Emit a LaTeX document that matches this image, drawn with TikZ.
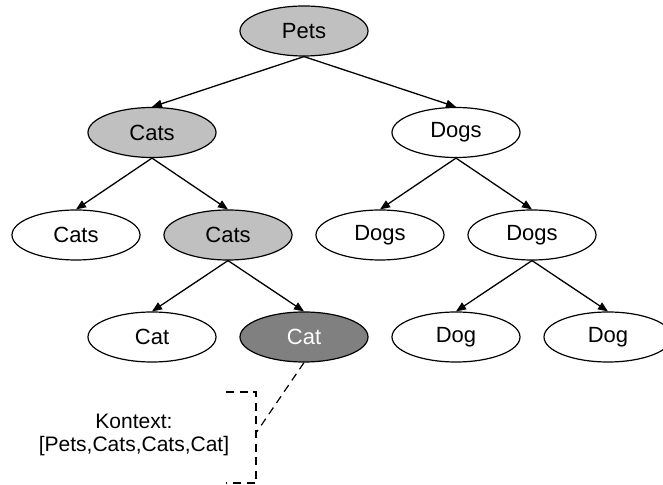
\documentclass[tikz,border=0pt]{standalone}
\usepackage{fontspec}
\setmainfont{Liberation Sans}
\usetikzlibrary{arrows.meta,shapes.geometric}
\definecolor{lightfill}{HTML}{C0C0C0}
\definecolor{darkfill}{HTML}{808080}
\begin{document}
\begin{tikzpicture}[x=0.5pt,y=-0.5pt,
  every node/.style={font=\fontsize{10.5}{11.5}\selectfont},
  tnode/.style={ellipse,draw=black,line width=0.6pt,minimum width=64pt,minimum height=25pt,inner sep=0pt,fill=white,font=\fontsize{11}{13}\selectfont},
  hl/.style={tnode,fill=lightfill},
  cur/.style={tnode,fill=darkfill,text=white},
  arr/.style={-{Triangle[length=5pt,width=4pt]},line width=0.65pt},
  dsh/.style={dash pattern=on 4pt off 2.8pt,line width=0.6pt}]
\useasboundingbox (0,0) rectangle (663,485);
\node[hl]   (pets)  at (304,31)    {Pets};
\node[hl]   (cats)  at (152,132.5) {Cats};
\node[tnode](dogs)  at (456,132.5) {Dogs};
\node[tnode](catsa) at (76,235)    {Cats};
\node[hl]   (catsb) at (228,235)   {Cats};
\node[tnode](dogsa) at (380,235)   {Dogs};
\node[tnode](dogsb) at (532,235)   {Dogs};
\node[tnode](cata)  at (152,337)   {Cat};
\node[cur]  (catb)  at (304,337)   {Cat};
\node[tnode](doga)  at (456,337)   {Dog};
\node[tnode](dogb)  at (608,337)   {Dog};
\draw[arr] (pets.south) -- (cats.north);
\draw[arr] (pets.south) -- (dogs.north);
\draw[arr] (cats.south) -- (catsa.north);
\draw[arr] (cats.south) -- (catsb.north);
\draw[arr] (dogs.south) -- (dogsa.north);
\draw[arr] (dogs.south) -- (dogsb.north);
\draw[arr] (catsb.south) -- (cata.north);
\draw[arr] (catsb.south) -- (catb.north);
\draw[arr] (dogsb.south) -- (doga.north);
\draw[arr] (dogsb.south) -- (dogb.north);
\node[align=center] (ctx) at (134,435) {Kontext:\\{[}Pets,Cats,Cats,Cat{]}};
\coordinate (bt) at (226,392);
\coordinate (bm) at (256,433);
\coordinate (bb) at (226,483);
\draw[dsh] (bt) -- (bt -| bm) -- (bb -| bm) -- (bb);
\draw[dsh] (catb.south) -- (bm);
\end{tikzpicture}
\end{document}
